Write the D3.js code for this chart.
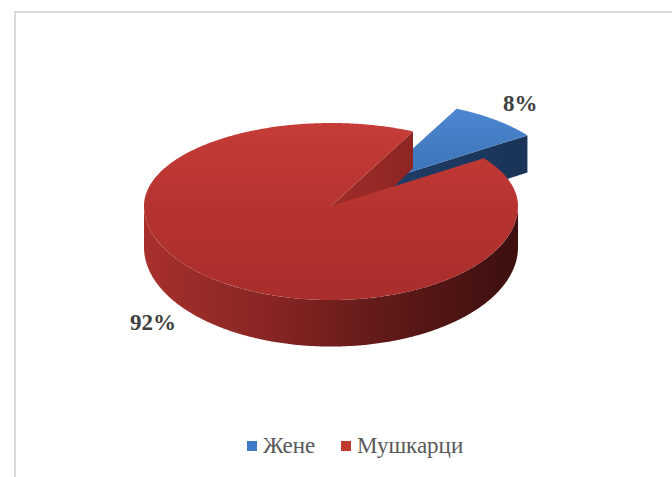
<!DOCTYPE html>
<html>
<head>
<meta charset="utf-8">
<script src="https://cdn.jsdelivr.net/npm/d3@7/dist/d3.min.js"></script>
<style>
  html, body { margin: 0; padding: 0; background: #fff; }
  svg { display: block; }
</style>
</head>
<body>
<svg id="chart" width="672" height="477"></svg>
<script>
// Gender split of respondents
const categories = ["Жене", "Мушкарци"];
const values = [8, 92];
const labels = ["8%", "92%"];
const explode = [0.36, 0];

const W = 672, H = 477;
const svg = d3.select("#chart");

// chart frame
svg.append("rect")
  .attr("x", 15).attr("y", 12).attr("width", 700).attr("height", 500)
  .attr("fill", "none").attr("stroke", "#d9d9d9").attr("stroke-width", 2);

// projected tilted disc
const cx = 331, cy = 206, rx = 187, ryTop = 83, ryBot = 94;
const depthAt = y => Math.max(34, Math.min(47, 37 + (y - 135) * 0.058));

const defs = svg.append("defs");
function linGrad(id, x1, y1, x2, y2, stops) {
  const g = defs.append("linearGradient").attr("id", id)
    .attr("gradientUnits", "userSpaceOnUse")
    .attr("x1", x1).attr("y1", y1).attr("x2", x2).attr("y2", y2);
  stops.forEach(([o, c]) => g.append("stop").attr("offset", o).attr("stop-color", c));
  return `url(#${id})`;
}

const pal = {
  "Жене": {
    top: linGrad("bTop", 0, 105, 0, 190, [[0, "#4c88d1"], [1, "#3a6fb3"]]),
    cut: linGrad("bCut", 380, 0, 530, 0, [[0, "#1e3d68"], [1, "#1b3458"]]),
    side: "#1d3a62"
  },
  "Мушкарци": {
    top: linGrad("rTop", 0, 120, 0, 305, [[0, "#c63c38"], [0.5, "#b5332f"], [1, "#a82d2b"]]),
    cut: linGrad("rCut", 330, 0, 420, 0, [[0, "#a02c29"], [1, "#8c2523"]]),
    side: linGrad("rSide", 142, 0, 518, 0, [[0, "#a8302c"], [0.35, "#862523"], [0.7, "#5a1817"], [1, "#3c100f"]])
  }
};

// screen angle: 0 = right, clockwise positive
function proj(theta, r, h, off) {
  const s = Math.sin(theta);
  const x = cx + off[0] + rx * r * Math.cos(theta);
  const yt = cy + off[1] + r * s * (s < 0 ? ryTop : ryBot);
  return [x, h ? yt + depthAt(yt) : yt];
}

function arcPts(a0, a1, h, off) {
  const n = Math.max(2, Math.ceil(Math.abs(a1 - a0) / 0.01));
  return d3.range(n + 1).map(i => proj(a0 + (a1 - a0) * i / n, 1, h, off));
}

const line = d3.line();

const pie = d3.pie().sort(null).value(d => d)
  .startAngle(26 * Math.PI / 180).endAngle(26 * Math.PI / 180 + 2 * Math.PI);
const arcs = pie(values).map((d, i) => {
  const a0 = d.startAngle - Math.PI / 2, a1 = d.endAngle - Math.PI / 2;
  const mid = (a0 + a1) / 2;
  const off = [explode[i] * rx * Math.cos(mid), explode[i] * ryTop * Math.sin(mid)];
  return { i, cat: categories[i], a0, a1, mid, off };
});

const g = svg.append("g");

// slices far-to-near: the small exploded slice sits behind
arcs.forEach(s => {
  const p = pal[s.cat];
  const c0 = proj(0, 0, 0, s.off), c1 = proj(0, 0, 1, s.off);

  // visible front wall (screen angles between 0 and PI)
  const segs = [];
  for (let k = -1; k <= 1; k++) {
    const lo = Math.max(s.a0, k * 2 * Math.PI), hi = Math.min(s.a1, k * 2 * Math.PI + Math.PI);
    if (hi > lo) segs.push([lo, hi]);
  }
  segs.forEach(([lo, hi]) => {
    const pts = arcPts(lo, hi, 0, s.off).concat(arcPts(hi, lo, 1, s.off));
    g.append("path").attr("d", line(pts) + "Z").attr("fill", p.side);
  });

  // cut face at the end angle (faces the viewer)
  const e0 = proj(s.a1, 1, 0, s.off), e1 = proj(s.a1, 1, 1, s.off);
  g.append("path").attr("d", line([c0, e0, e1, c1]) + "Z").attr("fill", p.cut);

  // top face
  const topPts = [c0].concat(arcPts(s.a0, s.a1, 0, s.off));
  g.append("path").attr("d", line(topPts) + "Z").attr("fill", p.top);
});

// data labels
const labelPos = [[503, 111], [130, 330]];
svg.selectAll("text.lbl").data(labels).enter().append("text")
  .attr("class", "lbl")
  .attr("x", (d, i) => labelPos[i][0]).attr("y", (d, i) => labelPos[i][1])
  .attr("font-family", "'Liberation Serif', 'Times New Roman', serif")
  .attr("font-weight", "bold").attr("font-size", 23).attr("fill", "#404040")
  .text(d => d);

// legend
const legendX = [247, 341];
const legSwatch = ["#3f7ac6", "#c0392f"];
const leg = svg.append("g");
categories.forEach((c, i) => {
  leg.append("rect").attr("x", legendX[i]).attr("y", 441).attr("width", 10).attr("height", 10)
    .attr("fill", legSwatch[i]);
  leg.append("text").attr("x", legendX[i] + 16).attr("y", 453)
    .attr("font-family", "'Liberation Serif', 'Times New Roman', serif")
    .attr("font-size", 23).attr("fill", "#595959").text(c);
});
</script>
</body>
</html>
